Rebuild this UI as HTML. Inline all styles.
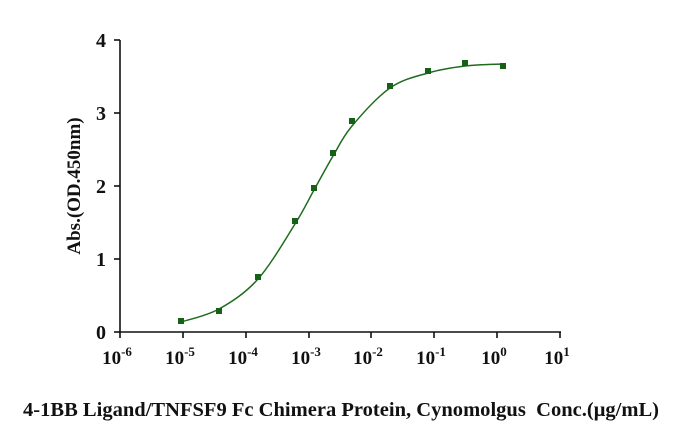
<!DOCTYPE html>
<html><head><meta charset="utf-8"><style>
body{margin:0;background:#fff;width:682px;height:441px;overflow:hidden}
text{font-family:"Liberation Serif",serif;font-weight:bold;fill:#111}
</style></head><body>
<svg width="682" height="441" viewBox="0 0 682 441">
<g stroke="#111" stroke-width="1.6" fill="none">
<line x1="120" y1="40" x2="120" y2="333"/>
<line x1="119" y1="332" x2="561" y2="332"/>
<line x1="114" y1="40" x2="120" y2="40"/>
<line x1="114" y1="113" x2="120" y2="113"/>
<line x1="114" y1="186" x2="120" y2="186"/>
<line x1="114" y1="259" x2="120" y2="259"/>
<line x1="114" y1="332" x2="120" y2="332"/>
<line x1="120" y1="332" x2="120" y2="338"/>
<line x1="183" y1="332" x2="183" y2="338"/>
<line x1="246" y1="332" x2="246" y2="338"/>
<line x1="309" y1="332" x2="309" y2="338"/>
<line x1="371" y1="332" x2="371" y2="338"/>
<line x1="434" y1="332" x2="434" y2="338"/>
<line x1="497" y1="332" x2="497" y2="338"/>
<line x1="560" y1="332" x2="560" y2="338"/>
</g>
<g font-size="20" text-anchor="end">
<text x="106" y="47">4</text><text x="106" y="120">3</text><text x="106" y="193">2</text><text x="106" y="266">1</text><text x="106" y="339">0</text>
</g>
<g font-size="19" text-anchor="middle" id="xl"></g>
<text font-size="19" transform="translate(80,186) rotate(-90)" text-anchor="middle">Abs.(OD.450nm)</text>
<text x="23" y="416" font-size="20" textLength="636" lengthAdjust="spacingAndGlyphs" xml:space="preserve">4-1BB Ligand/TNFSF9 Fc Chimera Protein, Cynomolgus  Conc.(μg/mL)</text>
<path id="cv" fill="none" stroke="#1e6b1e" stroke-width="1.5"/>
<g id="pts" fill="#176017"></g>
</svg>
<script>
var xs=[120,183,246,309,371,434,497,560],ex=[-6,-5,-4,-3,-2,-1,0,1],g=document.getElementById('xl'),s='';
for(var i=0;i<8;i++){s+='<text x="'+(xs[i]-3)+'" y="364">10<tspan font-size="13" dy="-8">'+ex[i]+'</tspan></text>';}
g.innerHTML=s;
var P=[[181,321],[219,311],[258,277],[295,221],[314,188],[333,153],[352,121],[390,86],[428,71],[465,63],[503,66]];
var q='';P.forEach(function(p){q+='<rect x="'+(p[0]-3)+'" y="'+(p[1]-3)+'" width="6" height="6"/>';});
document.getElementById('pts').innerHTML=q;
var C=[[181,322],[219,309],[258,279],[295,224],[314,190],[333,156],[352,126],[390,88],[428,73],[465,66],[503,64]];
var d='M'+C[0][0]+','+C[0][1];
for(var i=0;i<C.length-1;i++){var p0=C[Math.max(0,i-1)],p1=C[i],p2=C[i+1],p3=C[Math.min(C.length-1,i+2)];
d+=' C'+(p1[0]+(p2[0]-p0[0])/6)+','+(p1[1]+(p2[1]-p0[1])/6)+' '+(p2[0]-(p3[0]-p1[0])/6)+','+(p2[1]-(p3[1]-p1[1])/6)+' '+p2[0]+','+p2[1];}
document.getElementById('cv').setAttribute('d',d);
</script>
</body></html>
